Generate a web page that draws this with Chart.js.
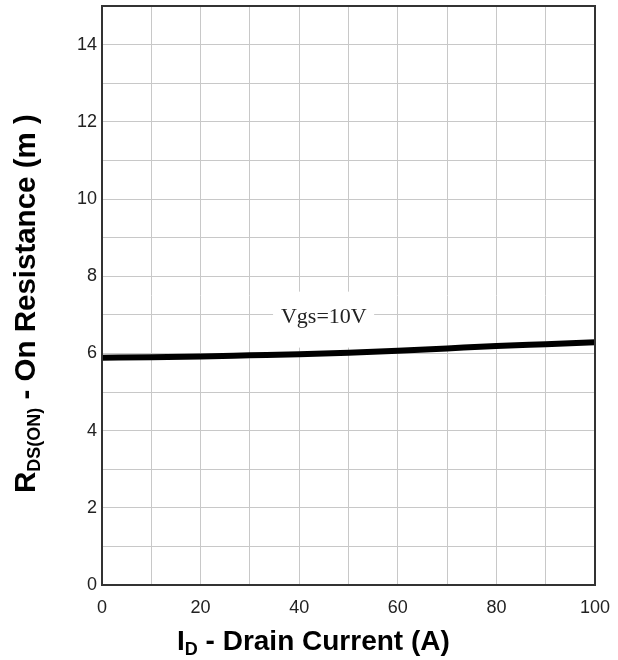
<!DOCTYPE html>
<html>
<head>
<meta charset="utf-8">
<script src="https://cdn.jsdelivr.net/npm/chart.js@4.4.1/dist/chart.umd.min.js"></script>
<style>
  html, body { margin: 0; padding: 0; background: #ffffff; }
  #wrap { width: 618px; height: 660px; position: relative; }
</style>
</head>
<body>
<div id="wrap"><canvas id="c" width="618" height="660"></canvas></div>
<script>
// ---- data ----
const currentA = [0, 10, 20, 30, 40, 50, 60, 70, 80, 90, 100];
const rdsOn10V = [5.89, 5.90, 5.92, 5.95, 5.98, 6.02, 6.07, 6.13, 6.19, 6.24, 6.29];
const xTickLabels = [0, 20, 40, 60, 80, 100];
const yTickLabels = [0, 2, 4, 6, 8, 10, 12, 14];
const seriesLabel = 'Vgs=10V';

const TICK_FONT = { family: "'Liberation Sans', Arial, sans-serif", size: 18 };
const TITLE_FAMILY = "'Liberation Sans', Arial, sans-serif";

function zeroPad(s) {
  s.paddingTop = 0; s.paddingBottom = 0; s.paddingLeft = 0; s.paddingRight = 0;
}

const decorPlugin = {
  id: 'decor',
  beforeDatasetsDraw(chart) {
    const { ctx, scales: { x, y } } = chart;
    // white box behind the series label
    const x0 = x.getPixelForValue(34.7), x1 = x.getPixelForValue(55.2);
    const y0 = y.getPixelForValue(7.6), y1 = y.getPixelForValue(6.15);
    ctx.save();
    ctx.fillStyle = '#ffffff';
    ctx.fillRect(x0, y0, x1 - x0, y1 - y0);
    ctx.fillStyle = '#222222';
    ctx.font = "22px 'Liberation Serif', 'Times New Roman', serif";
    ctx.textAlign = 'center';
    ctx.textBaseline = 'middle';
    ctx.fillText(seriesLabel, x.getPixelForValue(45), y.getPixelForValue(6.93));
    ctx.restore();
  },
  afterDraw(chart) {
    const { ctx, chartArea: ca } = chart;
    ctx.save();
    // frame
    ctx.strokeStyle = '#333333';
    ctx.lineWidth = 2;
    ctx.strokeRect(ca.left, ca.top, ca.right - ca.left, ca.bottom - ca.top);
    ctx.fillStyle = '#000000';
    ctx.textBaseline = 'alphabetic';
    ctx.textAlign = 'left';
    // x title: I_D - Drain Current (A)
    const big = 'bold 28px ' + TITLE_FAMILY, small = 'bold 18px ' + TITLE_FAMILY;
    let tx = ca.left + 75, ty = ca.bottom + 65;
    ctx.font = big; ctx.fillText('I', tx, ty); tx += ctx.measureText('I').width;
    ctx.font = small; ctx.fillText('D', tx, ty + 5); tx += ctx.measureText('D').width;
    ctx.font = big; ctx.fillText(' - Drain Current (A)', tx, ty);
    // y title: R_DS(ON) - On Resistance (m )
    const bigY = 'bold 29.5px ' + TITLE_FAMILY, smallY = 'bold 18px ' + TITLE_FAMILY;
    ctx.translate(35, ca.bottom - 92);
    ctx.rotate(-Math.PI / 2);
    let px = 0;
    ctx.font = bigY; ctx.fillText('R', px, 0); px += ctx.measureText('R').width;
    ctx.font = smallY; ctx.fillText('DS(ON)', px, 5); px += ctx.measureText('DS(ON)').width;
    ctx.font = bigY; ctx.fillText(' - On Resistance (m )', px, 0);
    ctx.restore();
  }
};

new Chart(document.getElementById('c'), {
  type: 'line',
  data: {
    datasets: [{
      label: seriesLabel,
      data: currentA.map((v, i) => ({ x: v, y: rdsOn10V[i] })),
      borderColor: '#000000',
      borderWidth: 6,
      pointRadius: 0,
      cubicInterpolationMode: 'monotone',
      fill: false
    }]
  },
  options: {
    responsive: false,
    animation: false,
    devicePixelRatio: 1,
    layout: { padding: { top: 6, right: 23, left: 0, bottom: 0 } },
    plugins: { legend: { display: false }, tooltip: { enabled: false } },
    scales: {
      x: {
        type: 'linear', min: 0, max: 100,
        grid: { color: '#c8c8c8', lineWidth: 1, drawTicks: false },
        border: { display: false },
        ticks: {
          stepSize: 10, autoSkip: false, maxRotation: 0, padding: 12,
          color: '#222222', font: TICK_FONT,
          callback: v => xTickLabels.includes(v) ? String(v) : ''
        },
        afterFit: s => { s.height = 75; zeroPad(s); }
      },
      y: {
        type: 'linear', min: 0, max: 15,
        grid: { color: '#c8c8c8', lineWidth: 1, drawTicks: false },
        border: { display: false },
        ticks: {
          stepSize: 1, autoSkip: false, padding: 5,
          color: '#222222', font: TICK_FONT,
          callback: v => yTickLabels.includes(v) ? String(v) : ''
        },
        afterFit: s => { s.width = 102; zeroPad(s); }
      }
    }
  },
  plugins: [decorPlugin]
});
</script>
</body>
</html>
